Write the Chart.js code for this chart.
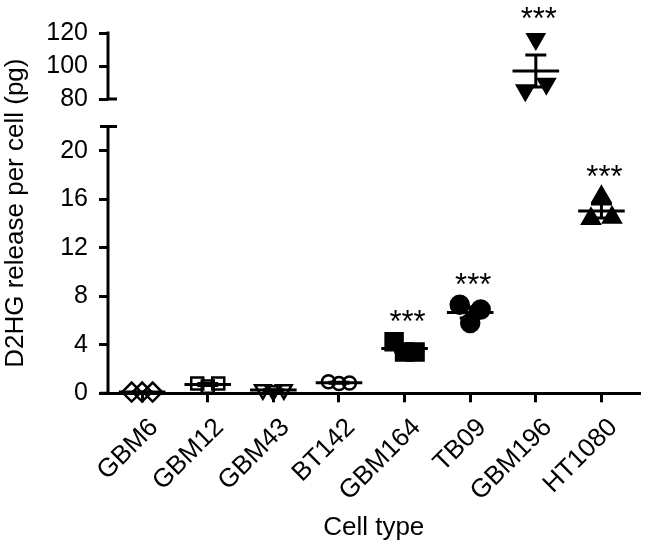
<!DOCTYPE html>
<html><head><meta charset="utf-8">
<script src="https://cdn.jsdelivr.net/npm/chart.js@4.4.0/dist/chart.umd.min.js"></script>
<style>html,body{margin:0;padding:0;background:#fff}canvas{display:block}</style>
</head><body>
<canvas id="c" width="654" height="544"></canvas>
<script>
// ---- data ----
const categories = ['GBM6','GBM12','GBM43','BT142','GBM164','TB09','GBM196','HT1080'];
const gbm6   = [0.1, 0.1, 0.1];
const gbm12  = [0.8, 0.55, 0.8];
const gbm43  = [0.3, 0.2, 0.3];
const bt142  = [0.95, 0.8, 0.85];
const gbm164 = [4.25, 3.4, 3.4];
const tb09   = [7.3, 5.8, 6.9];
const gbm196 = [85.3, 116.3, 89.3];
const ht1080 = [14.4, 16.2, 14.5];
const significance = ['', '', '', '', '***', '***', '***', '***'];
const yTicks = [0, 4, 8, 12, 16, 20, 80, 100, 120];
const lowerRange = [0, 22];
const upperRange = [80, 120];

const seriesValues = [gbm6, gbm12, gbm43, bt142, gbm164, tb09, gbm196, ht1080];

// ---- broken linear scale ----
const LOWER_FRAC = 0.7406, UPPER_START = 0.8167;
function valueToDecimal(v) {
  if (v <= lowerRange[1]) return (v - lowerRange[0]) / (lowerRange[1] - lowerRange[0]) * LOWER_FRAC;
  if (v >= upperRange[0]) return UPPER_START + (v - upperRange[0]) / (upperRange[1] - upperRange[0]) * (1 - UPPER_START);
  return LOWER_FRAC + (v - lowerRange[1]) / (upperRange[0] - lowerRange[1]) * (UPPER_START - LOWER_FRAC);
}
function decimalToValue(d) {
  if (d <= LOWER_FRAC) return lowerRange[0] + d / LOWER_FRAC * (lowerRange[1] - lowerRange[0]);
  if (d >= UPPER_START) return upperRange[0] + (d - UPPER_START) / (1 - UPPER_START) * (upperRange[1] - upperRange[0]);
  return lowerRange[1] + (d - LOWER_FRAC) / (UPPER_START - LOWER_FRAC) * (upperRange[0] - lowerRange[1]);
}
class BrokenScale extends Chart.LinearScale {
  getPixelForValue(v) {
    if (v === null || v === undefined || isNaN(v)) return NaN;
    return this.getPixelForDecimal(valueToDecimal(v));
  }
  getValueForPixel(p) { return decimalToValue(this.getDecimalForPixel(p)); }
}
BrokenScale.id = 'broken';
BrokenScale.defaults = Chart.LinearScale.defaults;
Chart.register(BrokenScale);

Chart.defaults.font.family = '"Liberation Sans", Arial, Helvetica, sans-serif';
Chart.defaults.color = '#000';

// ---- marker styles ----
const markerStyles = [
  {pointStyle: 'rectRot', radius: 9.5, fill: false, rotation: 0},
  {pointStyle: 'rect', radius: 8.5, fill: false, rotation: 0},
  {pointStyle: 'triangle', radius: 9, fill: false, rotation: 180},
  {pointStyle: 'circle', radius: 6.5, fill: false, rotation: 0},
  {pointStyle: 'rect', radius: 12, fill: true, rotation: 0},
  {pointStyle: 'circle', radius: 9, fill: true, rotation: 0},
  {pointStyle: 'triangle', radius: 9.5, fill: true, rotation: 180},
  {pointStyle: 'triangle', radius: 10, fill: true, rotation: 0}
];
const JITTER = 0.16, MEAN_HALF = 0.355, CAP_HALF = 0.16;

const stats = seriesValues.map(vals => {
  const n = vals.length;
  const m = vals.reduce((a, b) => a + b, 0) / n;
  const sd = Math.sqrt(vals.reduce((a, b) => a + (b - m) * (b - m), 0) / (n - 1));
  return {mean: m, sem: sd / Math.sqrt(n), max: Math.max(...vals)};
});

const datasets = seriesValues.map((vals, i) => ({
  label: categories[i],
  data: vals.map((v, k) => ({x: i + (k - 1) * JITTER, y: v})),
  yAxisID: 'y', xAxisID: 'x',
  pointStyle: markerStyles[i].pointStyle,
  pointRadius: markerStyles[i].radius,
  pointRotation: markerStyles[i].rotation,
  pointBorderWidth: 2.5,
  pointBorderColor: '#000',
  pointBackgroundColor: markerStyles[i].fill ? '#000' : 'rgba(0,0,0,0)',
  showLine: false,
  clip: false,
  order: 2
}));

const meanData = [], semData = [];
stats.forEach((s, i) => {
  meanData.push({x: i - MEAN_HALF, y: s.mean}, {x: i + MEAN_HALF, y: s.mean}, {x: i, y: null});
  const t = s.mean + s.sem, b = s.mean - s.sem;
  semData.push({x: i - CAP_HALF, y: t}, {x: i + CAP_HALF, y: t}, {x: i, y: null},
               {x: i, y: t}, {x: i, y: b}, {x: i, y: null},
               {x: i - CAP_HALF, y: b}, {x: i + CAP_HALF, y: b}, {x: i, y: null});
});
datasets.push({label: 'mean', data: meanData, showLine: true, spanGaps: false, borderColor: '#000',
  borderWidth: 3, pointRadius: 0, clip: false, order: 0});
datasets.push({label: 'sem', data: semData, showLine: true, spanGaps: false, borderColor: '#000',
  borderWidth: 3, pointRadius: 0, clip: false, order: 0});

const decor = {
  id: 'decor',
  afterDatasetsDraw(chart) {
    const ctx = chart.ctx, xs = chart.scales.x, ys = chart.scales.y;
    const ax = chart.chartArea.left;
    const p = v => ys.getPixelForValue(v);
    ctx.save();
    ctx.strokeStyle = '#000'; ctx.lineWidth = 3; ctx.lineCap = 'butt';
    ctx.beginPath();
    ctx.moveTo(ax, p(lowerRange[0]) + 1.5); ctx.lineTo(ax, p(lowerRange[1]));
    ctx.moveTo(ax - 8, p(lowerRange[1])); ctx.lineTo(ax + 9, p(lowerRange[1]));
    ctx.moveTo(ax, p(upperRange[0])); ctx.lineTo(ax, p(upperRange[1]) - 1.5);
    ctx.moveTo(ax, p(upperRange[0])); ctx.lineTo(ax + 9, p(upperRange[0]));
    ctx.moveTo(ax - 8, p(lowerRange[0])); ctx.lineTo(ax, p(lowerRange[0]));
    ctx.stroke();
    ctx.fillStyle = '#000';
    ctx.font = '31px "Liberation Sans", Arial, sans-serif';
    ctx.textAlign = 'center';
    ctx.textBaseline = 'alphabetic';
    significance.forEach((s, i) => {
      if (!s) return;
      const m = ctx.measureText(s);
      const x = xs.getPixelForValue(i) + 3;
      const yc = p(stats[i].max) - 26;
      const base = yc + (m.actualBoundingBoxAscent - m.actualBoundingBoxDescent) / 2;
      ctx.fillText(s, x, base);
    });
    ctx.restore();
  }
};

new Chart(document.getElementById('c'), {
  type: 'scatter',
  data: {datasets},
  options: {
    responsive: false,
    animation: false,
    devicePixelRatio: 1,
    layout: {padding: {top: 33, right: 0, left: 0, bottom: 0}},
    plugins: {legend: {display: false}, tooltip: {enabled: false}},
    scales: {
      x: {
        type: 'linear', position: 'bottom', min: -0.52, max: 7.58,
        afterBuildTicks: s => { s.ticks = categories.map((_, i) => ({value: i})); },
        afterFit: s => { s.height = 150.7; },
        ticks: {autoSkip: false, minRotation: 45, maxRotation: 45, padding: 10, labelOffset: 12,
          font: {size: 26}, color: '#000', callback: v => categories[v]},
        grid: {display: true, drawOnChartArea: false, drawTicks: true, tickLength: 9,
          tickWidth: 3, tickColor: '#000', color: '#000', lineWidth: 3},
        border: {display: true, color: '#000', width: 3},
        title: {display: true, text: 'Cell type', font: {size: 26}, color: '#000',
          padding: {top: 0, bottom: 1}}
      },
      y: {
        type: 'broken', position: 'left', min: 0, max: 120,
        afterBuildTicks: s => { s.ticks = yTicks.map(v => ({value: v})); },
        afterFit: s => { s.width = 108; },
        ticks: {autoSkip: false, padding: 11, font: {size: 25}, color: '#000',
          callback: v => String(v)},
        grid: {display: true, drawOnChartArea: false, drawTicks: true, tickLength: 9,
          tickWidth: 3, tickColor: '#000', color: '#000', lineWidth: 3},
        border: {display: false},
        title: {display: true, text: 'D2HG release per cell (pg)', font: {size: 26}, color: '#000',
          padding: {top: 0, bottom: 0}}
      }
    }
  },
  plugins: [decor]
});
</script>
</body></html>
